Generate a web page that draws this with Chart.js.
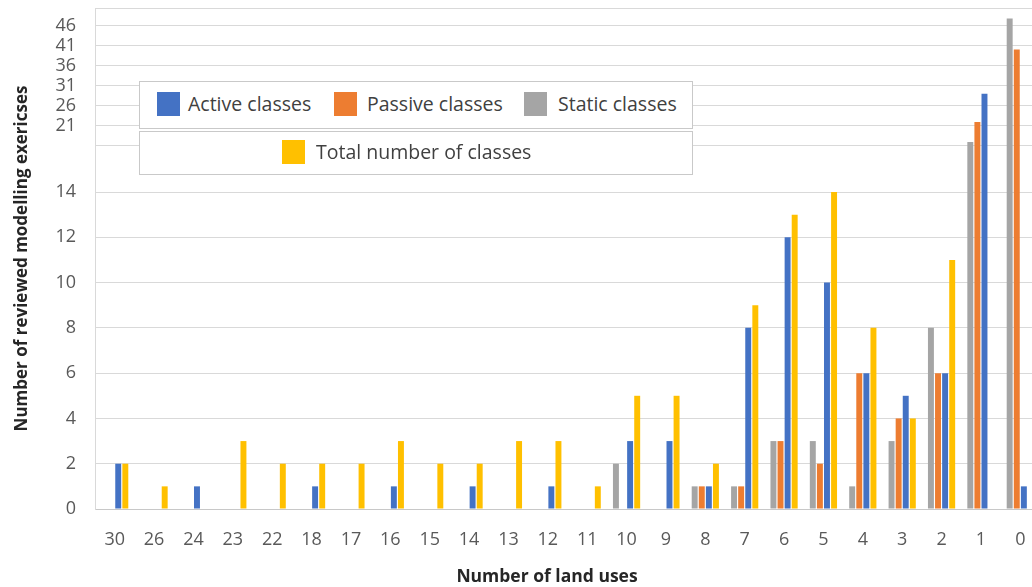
<!DOCTYPE html>
<html lang="en">
<head>
  <meta charset="UTF-8" />
  <title>Number of land uses in reviewed modelling exercises</title>
  <script src="https://cdn.jsdelivr.net/npm/chart.js"></script>
  <style>
    body {
      margin: 0;
      background: #fff;
      font-family: "Open Sans", sans-serif;
    }
    #wrap {
      position: relative;
      width: 1032px;
      height: 587px;
      overflow: hidden;
    }
    #chart {
      position: absolute;
      left: 0;
      top: 0;
    }
    .legend-box {
      position: absolute;
      left: 139px;
      width: 554px;
      box-sizing: border-box;
      background: #fff;
      border: 1px solid #c9c9c9;
    }
    .key {
      position: absolute;
      width: 23px;
      height: 24px;
    }
    .lbl {
      position: absolute;
      font-size: 19.5px;
      line-height: 24px;
      color: #404040;
      white-space: nowrap;
    }
    #xTitle {
      position: absolute;
      left: 397px;
      width: 300px;
      top: 564px;
      text-align: center;
      font-size: 17.5px;
      font-weight: bold;
      line-height: 22px;
      color: #262626;
    }
  </style>
</head>
<body>

  <div id="wrap">
    <canvas id="chart" width="1040" height="587"></canvas>

    <!-- legend, drawn as two boxes like the original -->
    <div class="legend-box" style="top: 81px; height: 48px;">
      <div class="key" style="left: 17px; top: 10px; background: #4472C4;"></div>
      <div class="lbl" style="left: 48px; top: 10px;">Active classes</div>
      <div class="key" style="left: 194px; top: 10px; background: #ED7D31;"></div>
      <div class="lbl" style="left: 227px; top: 10px;">Passive classes</div>
      <div class="key" style="left: 384px; top: 10px; background: #A5A5A5;"></div>
      <div class="lbl" style="left: 418px; top: 10px;">Static classes</div>
    </div>
    <div class="legend-box" style="top: 131px; height: 44px;">
      <div class="key" style="left: 142px; top: 8px; background: #FFC000;"></div>
      <div class="lbl" style="left: 176px; top: 8px;">Total number of classes</div>
    </div>

    <div id="xTitle">Number of land uses</div>
  </div>

  <script>
    // categories as shown on the axis (left to right)
    const categories = ['30', '26', '24', '23', '22', '18', '17', '16', '15', '14', '13', '12',
                        '11', '10', '9', '8', '7', '6', '5', '4', '3', '2', '1', '0'];

    const activeClasses  = [2, 0, 1, 0, 0, 1, 0, 1, 0, 1, 0, 1, 0, 3, 3, 1, 8, 12, 10, 6, 5, 6, 29, 1];
    const passiveClasses = [0, 0, 0, 0, 0, 0, 0, 0, 0, 0, 0, 0, 0, 0, 0, 1, 1, 3, 2, 6, 4, 6, 22, 40];
    const staticClasses  = [0, 0, 0, 0, 0, 0, 0, 0, 0, 0, 0, 0, 0, 2, 0, 1, 1, 3, 3, 1, 3, 8, 17, 48];
    const totalClasses   = [2, 1, 0, 3, 2, 2, 2, 3, 2, 2, 3, 3, 1, 5, 5, 2, 9, 13, 14, 8, 4, 11, null, null];

    // y axis is broken: 0-14 in the lower part, 16-51 squeezed into the top
    const yTicks = [0, 2, 4, 6, 8, 10, 12, 14, 16, 21, 26, 31, 36, 41, 46, 51];
    const yTickLabels = [0, 2, 4, 6, 8, 10, 12, 14, 21, 26, 31, 36, 41, 46];

    const breakValues = [0, 14, 16, 46, 51];
    const breakFractions = [0, 317 / 501, 363 / 501, 483.5 / 501, 1];

    class BrokenLinearScale extends Chart.LinearScale {
      determineDataLimits() {
        this.min = breakValues[0];
        this.max = breakValues[breakValues.length - 1];
      }
      buildTicks() {
        return yTicks.map(v => ({ value: v }));
      }
      toDecimal(value) {
        for (let i = 1; i < breakValues.length; i++) {
          if (value <= breakValues[i] || i === breakValues.length - 1) {
            const t = (value - breakValues[i - 1]) / (breakValues[i] - breakValues[i - 1]);
            return breakFractions[i - 1] + t * (breakFractions[i] - breakFractions[i - 1]);
          }
        }
        return 0;
      }
      getPixelForValue(value) {
        if (value === null || isNaN(value)) return NaN;
        return this.getPixelForDecimal(this.toDecimal(value));
      }
      getValueForPixel(pixel) {
        const d = this.getDecimalForPixel(pixel);
        for (let i = 1; i < breakFractions.length; i++) {
          if (d <= breakFractions[i] || i === breakFractions.length - 1) {
            const t = (d - breakFractions[i - 1]) / (breakFractions[i] - breakFractions[i - 1]);
            return breakValues[i - 1] + t * (breakValues[i] - breakValues[i - 1]);
          }
        }
        return 0;
      }
    }
    BrokenLinearScale.id = 'brokenLinear';
    BrokenLinearScale.defaults = {};
    Chart.register(BrokenLinearScale);

    const tickFont = { family: 'Open Sans', size: 18 };

    new Chart(document.getElementById('chart').getContext('2d'), {
      type: 'bar',
      data: {
        labels: categories,
        datasets: [
          { label: 'Static classes', data: staticClasses, backgroundColor: '#A5A5A5' },
          { label: 'Passive classes', data: passiveClasses, backgroundColor: '#ED7D31' },
          { label: 'Active classes', data: activeClasses, backgroundColor: '#4472C4' },
          { label: 'Total number of classes', data: totalClasses, backgroundColor: '#FFC000' }
        ]
      },
      options: {
        responsive: false,
        animation: false,
        devicePixelRatio: 1,
        layout: { padding: { top: 8, left: 0, right: 0, bottom: 0 } },
        datasets: {
          bar: { categoryPercentage: 0.72, barPercentage: 0.84 }
        },
        plugins: {
          legend: { display: false },
          tooltip: { enabled: false }
        },
        scales: {
          x: {
            grid: { display: false, drawTicks: false },
            border: { display: true, color: '#c8c8c8' },
            ticks: { color: '#595959', font: tickFont, padding: 20, maxRotation: 0, autoSkip: false },
            afterFit: (s) => { s.height = 78; s.paddingLeft = 0; s.paddingRight = 0; }
          },
          y: {
            type: 'brokenLinear',
            grid: { color: '#d9d9d9', drawTicks: false },
            border: { color: '#d9d9d9' },
            ticks: {
              autoSkip: false,
              padding: 19,
              color: '#595959',
              font: tickFont,
              callback: (v) => yTickLabels.includes(v) ? String(v) : ''
            },
            title: {
              display: true,
              text: 'Number of reviewed modelling exericses',
              color: '#262626',
              font: { family: 'Open Sans', size: 17, weight: 'bold' },
              padding: { top: 12, bottom: 0 }
            },
            afterFit: (s) => { s.width = 95; s.paddingTop = 0; s.paddingBottom = 0; }
          }
        }
      }
    });
  </script>

</body>
</html>
